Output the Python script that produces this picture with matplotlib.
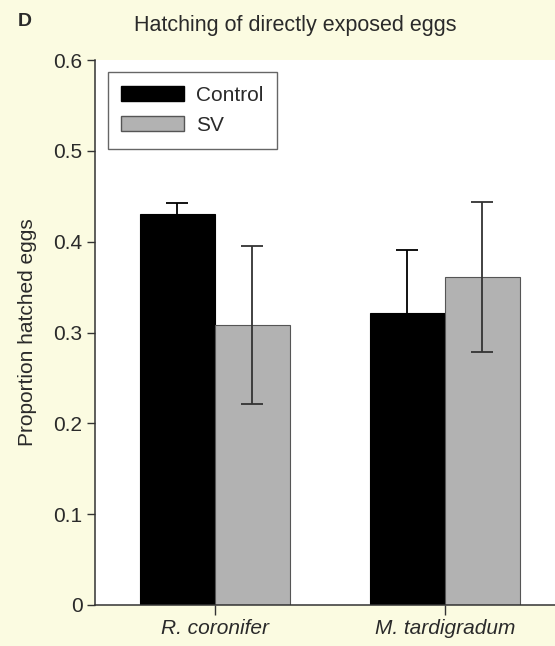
"""Hatching of directly exposed eggs - grouped bar chart (panel D)."""
import matplotlib

matplotlib.use("Agg")
import matplotlib.patches as mpatches  # noqa: E402
import matplotlib.pyplot as plt  # noqa: E402
import numpy as np  # noqa: E402
from matplotlib.ticker import FuncFormatter  # noqa: E402

plt.rcParams["font.family"] = ["Liberation Sans", "DejaVu Sans"]

species = ["R. coronifer", "M. tardigradum"]
control_mean = [0.430, 0.322]
control_err = [0.013, 0.069]
sv_mean = [0.308, 0.361]
sv_err = [0.087, 0.083]
yticks = [0, 0.1, 0.2, 0.3, 0.4, 0.5, 0.6]

BG = "#fbfbe1"
TXT = "#2a2a2a"
GRAY = "#b2b2b2"
FS = 15

fig = plt.figure(figsize=(5.55, 6.46), dpi=100, facecolor=BG)
ax = fig.add_axes([95 / 555, 1 - 605 / 646, 460 / 555, 545 / 646])
ax.set_facecolor("white")

x = np.arange(len(species))
w = 0.326
ax.bar(x - w / 2, control_mean, w, color="black", edgecolor="black", linewidth=0.8, zorder=2)
ax.bar(x + w / 2, sv_mean, w, color=GRAY, edgecolor="#555555", linewidth=0.8, zorder=2)
# lower half of the control error bars sits on black bars, so draw them black
ax.errorbar(x - w / 2, control_mean, yerr=control_err, fmt="none", ecolor="black",
            elinewidth=1.3, capsize=8, capthick=1.3, zorder=3)
ax.errorbar(x + w / 2, sv_mean, yerr=sv_err, fmt="none", ecolor="#333333",
            elinewidth=1.3, capsize=8, capthick=1.3, zorder=3)

ax.set_xlim(-0.52, 0.478 + 1)
ax.set_ylim(0, 0.6)
ax.set_xticks(x)
ax.set_xticklabels(species, fontstyle="italic", fontsize=FS, color=TXT)
ax.set_yticks(yticks)
ax.yaxis.set_major_formatter(FuncFormatter(lambda v, _: "0" if v == 0 else f"{v:.1f}"))
ax.tick_params(axis="y", labelsize=FS, labelcolor=TXT, length=6, width=1, color="#333333", pad=3)
ax.tick_params(axis="x", length=7, width=1, color="#333333", pad=3)
for s in ["top", "right"]:
    ax.spines[s].set_visible(False)
for s in ["left", "bottom"]:
    ax.spines[s].set_color("#333333")
    ax.spines[s].set_linewidth(1.1)

ax.set_ylabel("Proportion hatched eggs", fontsize=FS, color=TXT, labelpad=12)

handles = [mpatches.Patch(facecolor="black", edgecolor="black", label="Control"),
           mpatches.Patch(facecolor=GRAY, edgecolor="#555555", label="SV")]
leg = ax.legend(handles=handles, loc="upper left", bbox_to_anchor=(0.028, 0.978),
                borderaxespad=0, fontsize=FS, handlelength=3.0, handleheight=0.7,
                handletextpad=0.6, labelspacing=0.55, borderpad=0.65,
                fancybox=False, framealpha=1, edgecolor="#666666")
leg.get_frame().set_linewidth(1.0)
for t in leg.get_texts():
    t.set_color(TXT)

fig.text(295 / 555, 1 - 25 / 646, "Hatching of directly exposed eggs", fontsize=FS + 0.5,
         color=TXT, ha="center", va="center")
fig.text(25 / 555, 1 - 22 / 646, "D", fontsize=14, fontweight="bold", color=TXT,
         ha="center", va="center")

fig.savefig("out.png", dpi=100, facecolor=BG)
plt.close(fig)
